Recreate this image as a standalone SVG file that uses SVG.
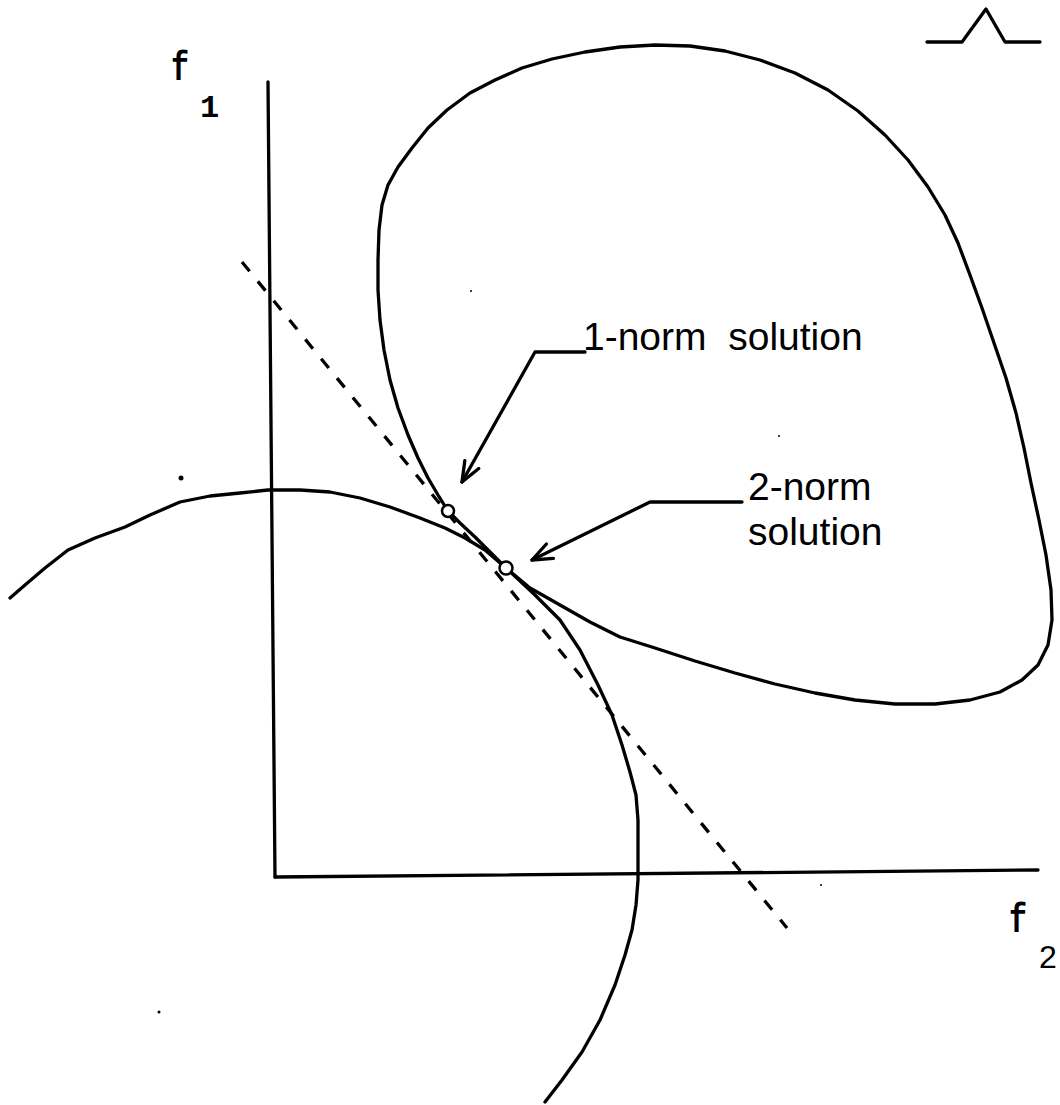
<svg xmlns="http://www.w3.org/2000/svg" width="1060" height="1105" viewBox="0 0 1060 1105">
<style>
.ln{fill:none;stroke:#000;stroke-width:3.3;stroke-linejoin:round;stroke-linecap:round}
.dash{fill:none;stroke:#000;stroke-width:3.3;stroke-dasharray:12 13}
.lbl{font-family:"Liberation Sans",Arial,sans-serif;font-size:39px;fill:#000;white-space:pre}
.ax{font-family:"Liberation Mono","Courier New",monospace;font-weight:bold;fill:#000}
.pt{fill:#fff;stroke:#000;stroke-width:2.5}
</style>
<defs>
<marker id="ah" markerUnits="userSpaceOnUse" markerWidth="40" markerHeight="40" refX="0" refY="0" viewBox="-25 -20 30 40" orient="auto" overflow="visible">
<path d="M-20,-8 L0,0 L-20,8" fill="none" stroke="#000" stroke-width="3.3" stroke-linecap="round" stroke-linejoin="round"/>
</marker>
</defs>
<rect width="1060" height="1105" fill="#fff"/>
<g id="symbol">
<polyline class="ln" stroke-width="4" points="927,42 962,42 986,9 1005,42 1040,42"/>
</g>
<g id="axes">
<line class="ln" x1="268" y1="82" x2="275" y2="877"/>
<line class="ln" x1="275" y1="877" x2="1038" y2="870"/>
<text class="ax" x="171" y="80" font-size="40" textLength="18" lengthAdjust="spacingAndGlyphs">f</text>
<text class="ax" x="200" y="117" font-size="32">1</text>
<text class="ax" x="1009" y="932" font-size="40" textLength="18" lengthAdjust="spacingAndGlyphs">f</text>
<text x="1039" y="968" font-family="Liberation Sans, Arial, sans-serif" font-size="32">2</text>
</g>
<g id="feasible-region">
<polyline class="ln" points="448,511 438,495 428,478 418,458 408,435 398,408 390,380 384,350 380,320 378,290 378,260 379,230 382,205 388,185 398,167 412,148 428,128 447,110 470,93 495,80 522,68 552,59 585,52 620,47 655,45 690,46 725,51 760,60 795,73 828,90 858,111 885,135 908,160 928,187 945,215 958,243 970,275 982,308 994,343 1006,378 1016,413 1024,448 1031,483 1039,520 1046,555 1051,590 1052,620 1048,645 1038,665 1022,680 1000,692 970,700 935,704 895,704 855,700 815,693 775,684 735,673 695,661 655,648 620,637 590,622 560,605 530,588 506,568 490,552 475,537 460,523 448,511"/>
</g>
<g id="level-curve">
<polyline class="ln" points="10,598 25,585 45,568 68,550 95,538 125,527 150,515 180,502 210,496 240,493 268,490 300,490 330,492 360,498 390,507 420,518 445,528 465,538 485,550 506,568 535,595 560,620 580,650 598,685 612,715 622,745 630,772 636,795 638,820 638,850 638,880 636,905 632,930 625,955 615,985 600,1020 582,1052 562,1080 545,1102"/>
</g>
<g id="connectors">
<line class="dash" x1="242" y1="262" x2="787" y2="928"/>
<polyline class="ln" points="585,352 535,352 462,482" marker-end="url(#ah)"/>
<polyline class="ln" points="742,502 650,502 532,560" marker-end="url(#ah)"/>
</g>
<g id="solution-1norm">
<circle class="pt" cx="448" cy="511" r="6"/>
<text class="lbl" x="583" y="350" xml:space="preserve">1-norm  solution</text>
</g>
<g id="solution-2norm">
<circle class="pt" cx="506" cy="568" r="6.5"/>
<text class="lbl" x="748" y="500">2-norm</text>
<text class="lbl" x="748" y="545">solution</text>
</g>
<g id="specks">
<circle cx="181" cy="478" r="2.5"/>
<circle cx="159" cy="1012" r="1.5"/>
<circle cx="471" cy="291" r="1"/>
<circle cx="779" cy="436" r="1"/>
<circle cx="821" cy="885" r="1"/>
</g>
</svg>
